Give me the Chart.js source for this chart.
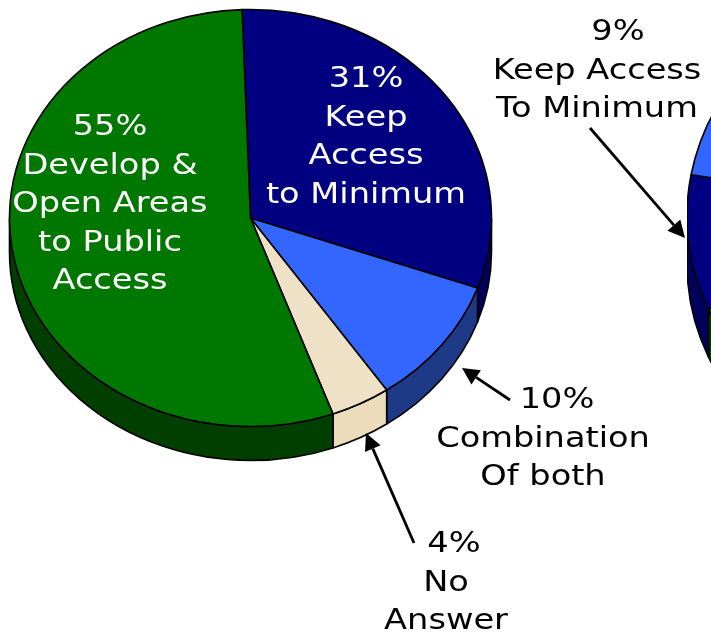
<!DOCTYPE html>
<html>
<head>
<meta charset="utf-8">
<script src="https://cdn.jsdelivr.net/npm/chart.js@4.4.1/dist/chart.umd.min.js"></script>
<style>
  html, body { margin: 0; padding: 0; width: 711px; height: 635px; overflow: hidden; background: #fff; }
  canvas { position: absolute; top: 0; }
  #pieLeft { left: 0; }
  #pieRight { left: 687px; }
</style>
</head>
<body>
<canvas id="pieLeft" width="711" height="635"></canvas>
<canvas id="pieRight" width="560" height="635"></canvas>
<script>
// left pie (fully visible)
const sliceLabels = ['Keep Access to Minimum', 'Combination Of both', 'No Answer', 'Develop & Open Areas to Public Access'];
const sliceValues = [31, 10, 4, 55];
// right pie (only its left edge is on the page)
const rightLabels = ['Develop & Open Areas to Public Access', 'Keep Access To Minimum', 'Combination Of both', 'No Answer'];
const rightValues = [69, 9, 18, 4];

const topColors = {navy: '#000080', blue: '#3366ff', beige: '#efe1c6', green: '#007800'};
const sideColors = {navy: '#00005c', blue: '#1e3a86', beige: '#ecdcbc', green: '#003f00'};
const leftKeys = ['navy', 'blue', 'beige', 'green'];
const rightKeys = ['green', 'navy', 'blue', 'beige'];

const pct = (v) => v + '%';

// text blocks: first line is the percentage, the rest the caption
const textBlocks = [
    {lines: [pct(sliceValues[0]), 'Keep', 'Access', 'to Minimum'], x: 366, y: 87, dx0: 0, color: '#fff'},
    {lines: [pct(sliceValues[3]), 'Develop &', 'Open Areas', 'to Public', 'Access'], x: 110, y: 135, dx0: 0, color: '#fff'},
    {lines: [pct(sliceValues[1]), 'Combination', 'Of both'], x: 543, y: 408, dx0: 14, color: '#000'},
    {lines: [pct(sliceValues[2]), 'No', 'Answer'], x: 446, y: 552, dx0: 8, color: '#000'},
    {lines: [pct(rightValues[1]), 'Keep Access', 'To Minimum'], x: 597, y: 40, dx0: 21, color: '#000'}
];
const arrows = [
    {from: [590, 128], to: [685, 238]},
    {from: [510, 400], to: [462, 368]},
    {from: [414, 543], to: [366, 433]}
];

// draws the pie as a tilted disc with a visible rim
const pie3d = {
    id: 'pie3d',
    beforeDatasetsDraw(chart, args, opts) {
        const ctx = chart.ctx;
        const meta = chart.getDatasetMeta(0);
        const ds = chart.data.datasets[0];
        ctx.save();
        ctx.lineWidth = 1.6;
        ctx.strokeStyle = '#000';
        ctx.lineJoin = 'round';
        meta.data.forEach((arc, i) => {
            const p = arc.getProps(['x', 'y', 'startAngle', 'endAngle', 'outerRadius'], true);
            const rx = p.outerRadius, ry = rx * opts.tilt, cy = p.y + opts.shiftY;
            for (let k = -1; k <= 1; k++) {
                const s = Math.max(p.startAngle, 2 * Math.PI * k);
                const e = Math.min(p.endAngle, 2 * Math.PI * k + Math.PI);
                if (e <= s) continue;
                ctx.beginPath();
                ctx.ellipse(p.x, cy, rx, ry, 0, s, e);
                ctx.ellipse(p.x, cy + opts.depth, rx, ry, 0, e, s, true);
                ctx.closePath();
                ctx.fillStyle = opts.sides[i];
                ctx.fill();
                ctx.stroke();
            }
        });
        meta.data.forEach((arc, i) => {
            const p = arc.getProps(['x', 'y', 'startAngle', 'endAngle', 'outerRadius'], true);
            const rx = p.outerRadius, ry = rx * opts.tilt, cy = p.y + opts.shiftY;
            ctx.beginPath();
            ctx.moveTo(p.x, cy);
            ctx.ellipse(p.x, cy, rx, ry, 0, p.startAngle, p.endAngle);
            ctx.closePath();
            ctx.fillStyle = ds.backgroundColor[i];
            ctx.fill();
            ctx.stroke();
        });
        ctx.restore();
        return false;
    }
};

const callouts = {
    id: 'callouts',
    afterDraw(chart) {
        if (chart.canvas.id != 'pieLeft') return;
        const ctx = chart.ctx;
        ctx.save();
        ctx.font = '28px "DejaVu Sans"';
        ctx.textAlign = 'center';
        ctx.textBaseline = 'alphabetic';
        textBlocks.forEach(b => {
            ctx.fillStyle = b.color;
            b.lines.forEach((line, j) => {
                ctx.save();
                ctx.translate(b.x + (j == 0 ? b.dx0 : 0), b.y + j * 38.5);
                ctx.scale(1.2, 1);
                ctx.fillText(line, 0, 0);
                ctx.restore();
            });
        });
        ctx.strokeStyle = '#000';
        ctx.fillStyle = '#000';
        ctx.lineWidth = 2.8;
        arrows.forEach(a => {
            const [x0, y0] = a.from, [x1, y1] = a.to;
            const ang = Math.atan2(y1 - y0, x1 - x0);
            const len = 17, hw = 8.5;
            const bx = x1 - len * Math.cos(ang), by = y1 - len * Math.sin(ang);
            ctx.beginPath();
            ctx.moveTo(x0, y0);
            ctx.lineTo(bx, by);
            ctx.stroke();
            ctx.beginPath();
            ctx.moveTo(x1, y1);
            ctx.lineTo(bx + hw * Math.sin(ang), by - hw * Math.cos(ang));
            ctx.lineTo(bx - hw * Math.sin(ang), by + hw * Math.cos(ang));
            ctx.closePath();
            ctx.fill();
        });
        ctx.restore();
    }
};

function makePie(id, labels, values, keys, padding, view) {
    return new Chart(document.getElementById(id), {
        type: 'pie',
        data: {
            labels: labels,
            datasets: [{
                data: values,
                backgroundColor: keys.map(k => topColors[k]),
                borderWidth: 0
            }]
        },
        options: {
            responsive: false,
            animation: false,
            events: [],
            rotation: view.rotation,
            layout: {padding: padding},
            plugins: {
                legend: {display: false},
                tooltip: {enabled: false},
                pie3d: {tilt: 0.865, depth: view.depth, shiftY: view.shiftY, sides: keys.map(k => sideColors[k])}
            }
        },
        plugins: [pie3d, callouts]
    });
}

makePie('pieLeft', sliceLabels, sliceValues, leftKeys,
    {left: 9.5, right: 219.5, top: 0, bottom: 153}, {depth: 34, shiftY: -23, rotation: -2});
makePie('pieRight', rightLabels, rightValues, rightKeys,
    {left: 0, right: 0, top: 0, bottom: 75}, {depth: 48, shiftY: -64, rotation: -1});
</script>
</body>
</html>
